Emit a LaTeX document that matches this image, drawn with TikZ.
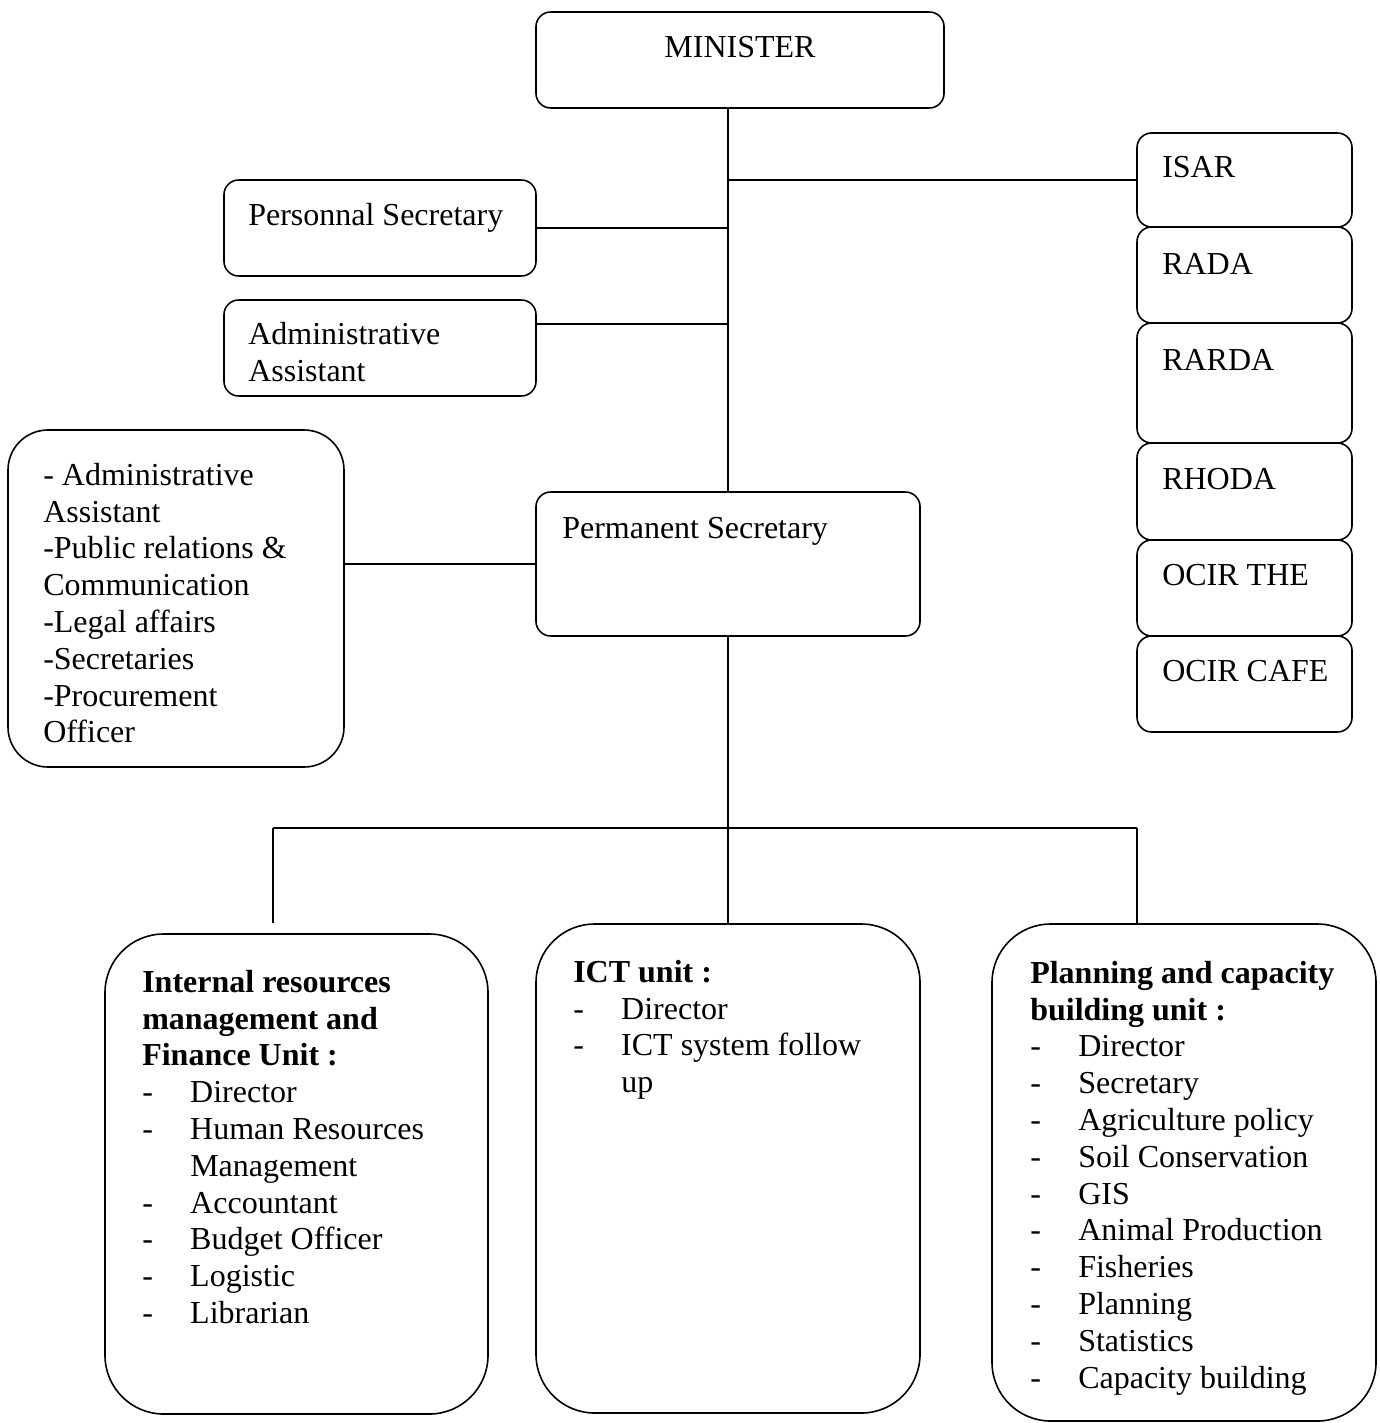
\documentclass[tikz,border=0pt]{standalone}
\usepackage{fontspec}
\setmainfont{Liberation Serif}
\usetikzlibrary{fit,calc}
\newcommand\itm{\makebox[36pt][l]{-}}
\newcommand\ind{\hspace*{36pt}}
\begin{document}
\begin{tikzpicture}[x=0.75pt,y=-0.75pt,
  box/.style={draw,line width=1.2pt,inner sep=0pt,rounded corners=11pt},
  bigbox/.style={box,rounded corners=30pt},
  unitbox/.style={box,rounded corners=44pt},
  txt/.style={inner sep=0pt,font=\fontsize{24}{27.6}\selectfont,align=left,anchor=north west,yshift=19.32pt},
  txtc/.style={txt,anchor=north},
  link/.style={line width=1.2pt}]
\useasboundingbox (0,0) rectangle (1379,1423);
% boxes
\node[box,fit={(536,12) (944,108)}] (minister) {};
\node[box,fit={(1137,133) (1352,227)}] (isar) {};
\node[box,fit={(1137,227) (1352,323)}] (rada) {};
\node[box,fit={(1137,323) (1352,443)}] (rarda) {};
\node[box,fit={(1137,443) (1352,540)}] (rhoda) {};
\node[box,fit={(1137,540) (1352,636)}] (ocirthe) {};
\node[box,fit={(1137,636) (1352,732)}] (ocircafe) {};
\node[box,fit={(224,180) (536,276)}] (psec) {};
\node[box,fit={(224,300) (536,396)}] (aasst) {};
\node[bigbox,fit={(8,430) (344,767)}] (lbox) {};
\node[box,fit={(536,492) (920,636)}] (permsec) {};
\node[unitbox,fit={(105,934) (488,1414)}] (irm) {};
\node[unitbox,fit={(536,924) (920,1413)}] (ict) {};
\node[unitbox,fit={(992,924) (1376,1421)}] (plan) {};
% texts
\node[txtc] (tminister) at (740,57) {\strut MINISTER};
\node[txt] (tisar) at (1162,177) {\strut ISAR};
\node[txt] (trada) at (1162,274) {\strut RADA};
\node[txt] (trarda) at (1162,370) {\strut RARDA};
\node[txt] (trhoda) at (1162,489) {\strut RHODA};
\node[txt] (tocirthe) at (1162,585) {\strut OCIR THE};
\node[txt] (tocircafe) at (1162,681) {\strut OCIR CAFE};
\node[txt] (tpsec) at (248,225) {\strut Personnal Secretary};
\node[txt] (taasst) at (248,344) {\strut Administrative\\Assistant};
\node[txt] (tlbox) at (43,485) {\strut - Administrative\\Assistant\\-Public relations \&\\Communication\\-Legal affairs\\-Secretaries\\-Procurement\\Officer};
\node[txt] (tpermsec) at (562,538) {\strut Permanent Secretary};
\node[txt] (tirm) at (142,992) {\strut\textbf{Internal resources}\\\textbf{management and}\\\textbf{Finance Unit :}\\\itm Director\\\itm Human Resources\\\ind Management\\\itm Accountant\\\itm Budget Officer\\\itm Logistic\\\itm Librarian};
\node[txt] (tict) at (573,982) {\strut\textbf{ICT unit :}\\\itm Director\\\itm ICT system follow\\\ind up};
\node[txt] (tplan) at (1030,983) {\strut\textbf{Planning and capacity}\\\textbf{building unit :}\\\itm Director\\\itm Secretary\\\itm Agriculture policy\\\itm Soil Conservation\\\itm GIS\\\itm Animal Production\\\itm Fisheries\\\itm Planning\\\itm Statistics\\\itm Capacity building};
% connectors
\draw[link] (permsec.north) -- (permsec.north |- minister.south);
\draw[link] (isar.west) -- (isar.west -| permsec.north);
\draw[link] (psec.east) -- (psec.east -| permsec.north);
\coordinate (aa) at ($(aasst.north east)+(0,24.5)$);
\draw[link] (aa) -- (aa -| permsec.north);
\draw[link] (lbox.east |- permsec.west) -- (permsec.west);
\coordinate (busL) at (273,828);
\coordinate (busR) at (1137,828);
\draw[link] (permsec.south) -- (permsec.south |- busL);
\draw[link] (busL) -- (busR);
\draw[link] (busL) -- (busL |- ict.north);
\draw[link] (ict.north) -- (ict.north |- busL);
\draw[link] (busR) -- (busR |- plan.north);
\end{tikzpicture}
\end{document}
